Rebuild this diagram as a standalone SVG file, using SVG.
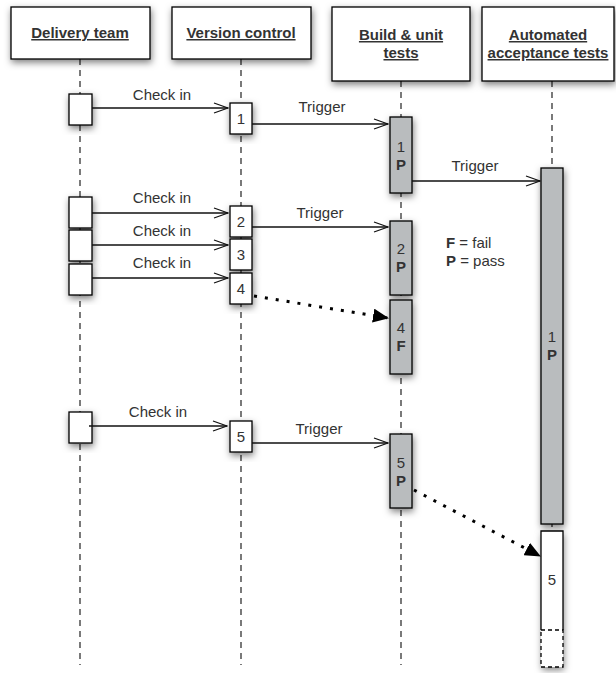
<svg xmlns="http://www.w3.org/2000/svg" width="616" height="673" viewBox="0 0 616 673">
<style>
  text { font-family: "Liberation Sans", Arial, Helvetica, sans-serif; fill: #333; }
  .hdr { font-size: 15px; font-weight: bold; text-anchor: middle; text-decoration: underline; }
  .lbl { font-size: 15px; text-anchor: middle; }
  .num { font-size: 15px; text-anchor: middle; }
  .b { font-weight: bold; }
  .box { fill: #fff; stroke: #000; stroke-width: 1.3; }
  .gbox { fill: #b9bcbe; stroke: #000; stroke-width: 1.3; }
  .life { stroke: #333; stroke-width: 1.3; stroke-dasharray: 6 5; fill: none; }
  .msg { stroke: #111; stroke-width: 1.3; fill: none; }
  .dot { stroke: #000; stroke-width: 3; stroke-dasharray: 3 8; fill: none; }
</style>
<defs>
  <filter id="sh" x="-60%" y="-30%" width="220%" height="160%">
    <feDropShadow dx="1" dy="3" stdDeviation="3.5" flood-color="#000" flood-opacity="0.5"/>
  </filter>
  <marker id="open" markerWidth="16" markerHeight="12" refX="15" refY="6" orient="auto" markerUnits="userSpaceOnUse">
    <path d="M1,1 L15,6 L1,11" fill="none" stroke="#111" stroke-width="1.3"/>
  </marker>
  <marker id="fill" markerWidth="16" markerHeight="14" refX="15" refY="7" orient="auto" markerUnits="userSpaceOnUse">
    <path d="M0,0 L16,7 L0,14 z" fill="#000"/>
  </marker>
</defs>

<g id="lifelines">
  <line class="life" x1="80" y1="59" x2="80" y2="665"/>
  <line class="life" x1="241" y1="59" x2="241" y2="665"/>
  <line class="life" x1="401" y1="81" x2="401" y2="665"/>
  <line class="life" x1="552" y1="81" x2="552" y2="667"/>
</g>

<g id="delivery-team">
  <rect class="box" x="11" y="7" width="139" height="52" filter="url(#sh)"/>
  <text class="hdr" x="80" y="38">Delivery team</text>
</g>
<g id="version-control">
  <rect class="box" x="172" y="7" width="139" height="52" filter="url(#sh)"/>
  <text class="hdr" x="241" y="38">Version control</text>
</g>
<g id="build-unit-tests">
  <rect class="box" x="332" y="7" width="138" height="74" filter="url(#sh)"/>
  <text class="hdr" x="401" y="40">Build &amp; unit</text>
  <text class="hdr" x="401" y="58">tests</text>
</g>
<g id="automated-acceptance-tests">
  <rect class="box" x="482" y="7" width="132" height="74" filter="url(#sh)"/>
  <text class="hdr" x="548" y="40">Automated</text>
  <text class="hdr" x="548" y="58">acceptance tests</text>
</g>

<g id="delivery-activations">
  <rect class="box" x="69" y="94" width="23" height="31" filter="url(#sh)"/>
  <rect class="box" x="69" y="197" width="23" height="31" filter="url(#sh)"/>
  <rect class="box" x="69" y="230" width="23" height="31" filter="url(#sh)"/>
  <rect class="box" x="69" y="264" width="23" height="31" filter="url(#sh)"/>
  <rect class="box" x="69" y="412" width="23" height="31" filter="url(#sh)"/>
</g>

<g id="vc-activations">
  <g id="vc-1"><rect class="box" x="230" y="103" width="22" height="31" filter="url(#sh)"/><text class="num" x="241" y="124">1</text></g>
  <g id="vc-2"><rect class="box" x="230" y="206" width="22" height="31" filter="url(#sh)"/><text class="num" x="241" y="227">2</text></g>
  <g id="vc-3"><rect class="box" x="230" y="239" width="22" height="31" filter="url(#sh)"/><text class="num" x="241" y="260">3</text></g>
  <g id="vc-4"><rect class="box" x="230" y="273" width="22" height="31" filter="url(#sh)"/><text class="num" x="241" y="294">4</text></g>
  <g id="vc-5"><rect class="box" x="230" y="421" width="22" height="31" filter="url(#sh)"/><text class="num" x="241" y="442">5</text></g>
</g>

<g id="build-activations">
  <g id="build-1"><rect class="gbox" x="390" y="117" width="22" height="76" filter="url(#sh)"/><text class="num" x="401" y="152">1</text><text class="num b" x="401" y="170">P</text></g>
  <g id="build-2"><rect class="gbox" x="390" y="221" width="22" height="74" filter="url(#sh)"/><text class="num" x="401" y="254">2</text><text class="num b" x="401" y="272">P</text></g>
  <g id="build-4"><rect class="gbox" x="390" y="300" width="22" height="74" filter="url(#sh)"/><text class="num" x="401" y="333">4</text><text class="num b" x="401" y="351">F</text></g>
  <g id="build-5"><rect class="gbox" x="390" y="434" width="22" height="74" filter="url(#sh)"/><text class="num" x="401" y="468">5</text><text class="num b" x="401" y="486">P</text></g>
</g>

<g id="acceptance-activations">
  <g id="acc-1"><rect class="gbox" x="541" y="168" width="22" height="356" filter="url(#sh)"/><text class="num" x="552" y="342">1</text><text class="num b" x="552" y="360">P</text></g>
  <g id="acc-5">
    <rect x="541" y="531" width="22" height="136" fill="#fff" stroke="none" filter="url(#sh)"/>
    <path d="M541,630 L541,531 L563,531 L563,630" fill="none" stroke="#000" stroke-width="1.3"/>
    <rect x="541" y="630" width="22" height="37" fill="none" stroke="#000" stroke-width="1.3" stroke-dasharray="4 3"/>
    <text class="num" x="552" y="585">5</text>
  </g>
</g>

<g id="legend">
  <text class="lbl" x="446" y="248" style="text-anchor:start"><tspan class="b">F</tspan> = fail</text>
  <text class="lbl" x="446" y="266" style="text-anchor:start"><tspan class="b">P</tspan> = pass</text>
</g>

<g id="connectors">
  <line class="msg" x1="92" y1="108" x2="228" y2="108" marker-end="url(#open)"/>
  <text class="lbl" x="162" y="100">Check in</text>
  <line class="msg" x1="252" y1="124" x2="388" y2="124" marker-end="url(#open)"/>
  <text class="lbl" x="322" y="112">Trigger</text>
  <line class="msg" x1="412" y1="181" x2="540" y2="181" marker-end="url(#open)"/>
  <text class="lbl" x="475" y="171">Trigger</text>

  <line class="msg" x1="92" y1="213" x2="228" y2="213" marker-end="url(#open)"/>
  <text class="lbl" x="162" y="203">Check in</text>
  <line class="msg" x1="92" y1="245" x2="228" y2="245" marker-end="url(#open)"/>
  <text class="lbl" x="162" y="236">Check in</text>
  <line class="msg" x1="92" y1="278" x2="228" y2="278" marker-end="url(#open)"/>
  <text class="lbl" x="162" y="268">Check in</text>
  <line class="msg" x1="252" y1="227" x2="388" y2="227" marker-end="url(#open)"/>
  <text class="lbl" x="320" y="218">Trigger</text>

  <line class="dot" x1="254" y1="296" x2="388" y2="318" marker-end="url(#fill)"/>

  <line class="msg" x1="89" y1="426" x2="227" y2="426" marker-end="url(#open)"/>
  <text class="lbl" x="158" y="417">Check in</text>
  <line class="msg" x1="252" y1="443" x2="388" y2="443" marker-end="url(#open)"/>
  <text class="lbl" x="319" y="434">Trigger</text>

  <line class="dot" x1="414" y1="490" x2="540" y2="556" marker-end="url(#fill)"/>
</g>
</svg>
